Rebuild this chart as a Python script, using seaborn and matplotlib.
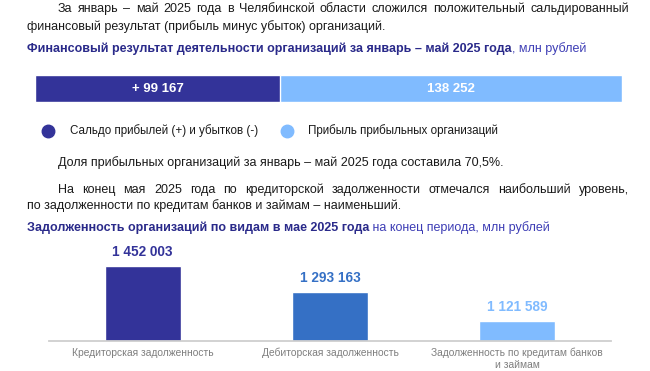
import matplotlib
matplotlib.use("Agg")
import matplotlib.pyplot as plt
import seaborn as sns
import pandas as pd
from matplotlib.lines import Line2D

# ---------------- data ----------------
fin_labels = ["Сальдо прибылей (+) и убытков (-)", "Прибыль прибыльных организаций"]
fin_values = [99167, 138252]
fin_texts = ["+ 99 167", "138 252"]

debt_categories = ["Кредиторская задолженность", "Дебиторская задолженность",
                   "Задолженность по кредитам банков\nи займам"]
debt_values = [1452003, 1293163, 1121589]

para1_line1 = "За январь – май 2025 года в Челябинской области сложился положительный сальдированный"
para1_line2 = "финансовый результат (прибыль минус убыток) организаций."
title1_bold = "Финансовый результат деятельности организаций за январь – май 2025 года"
title1_rest = ", млн рублей"
para2 = "Доля прибыльных организаций за январь – май 2025 года составила 70,5%."
para3_line1 = "На конец мая 2025 года по кредиторской задолженности отмечался наибольший уровень,"
para3_line2 = "по задолженности по кредитам банков и займам – наименьший."
title2_bold = "Задолженность организаций по видам в мае 2025 года"
title2_rest = " на конец периода, млн рублей"

# ---------------- style ----------------
sns.set_theme(style="white")
plt.rcParams["font.family"] = ["Liberation Sans", "DejaVu Sans"]

DARK = "#333399"
MID = "#3570C5"
LIGHT = "#80BBFF"
TITLE_C = "#2A2A8A"
TITLE_REST_C = "#3D3DB5"
TEXT_C = "#1a1a1a"
GRAY = "#7F7F7F"

W, H = 650, 371
fig = plt.figure(figsize=(W / 100, H / 100), dpi=100)
fig.patch.set_facecolor("white")
renderer = fig.canvas.get_renderer()


def fx(x):
    return x / W


def fy(y):
    return 1 - y / H


FS = 9.0
TFS = 9.0
LFS = 8.4


def put(x, y, s, **kw):
    kw.setdefault("fontsize", FS)
    kw.setdefault("color", TEXT_C)
    return fig.text(fx(x), fy(y), s, ha="left", va="center", **kw)


def justify(x0, x1, y, s, **kw):
    words = s.split(" ")
    kw.setdefault("fontsize", FS)
    kw.setdefault("color", TEXT_C)
    texts = [fig.text(0, fy(y), w, ha="left", va="center", **kw) for w in words]
    widths = [t.get_window_extent(renderer).width for t in texts]
    gap = (x1 - x0 - sum(widths)) / (len(words) - 1)
    x = x0
    for t, w in zip(texts, widths):
        t.set_x(fx(x))
        x += w + gap


def two_part(x, y, bold, rest, fs=TFS):
    t = put(x, y, bold, fontweight="bold", color=TITLE_C, fontsize=fs)
    w = t.get_window_extent(renderer).width
    put(x + w, y, rest, color=TITLE_REST_C, fontsize=fs)


# ---------------- texts ----------------
justify(58, 629, 9, para1_line1)
put(27, 27, para1_line2)
two_part(27, 49, title1_bold, title1_rest)
put(58, 163, para2)
justify(58, 629, 190, para3_line1)
put(27, 206, para3_line2)
two_part(27, 228, title2_bold, title2_rest)

# ---------------- stacked horizontal bar ----------------
x_left, x_right, y_top, y_bot = 35, 622, 75, 102
ax1 = fig.add_axes([fx(x_left), fy(y_bot), fx(x_right) - fx(x_left), (y_bot - y_top) / H])
total = sum(fin_values)
df_fin = pd.DataFrame({"row": ["r"], "total": [total], "first": [fin_values[0]]})
sns.barplot(data=df_fin, x="total", y="row", orient="h", color=LIGHT, width=1,
            saturation=1, ax=ax1)
sns.barplot(data=df_fin, x="first", y="row", orient="h", color=DARK, width=1,
            saturation=1, ax=ax1)
ax1.set_xlim(0, total)
ax1.set_ylim(0.5, -0.5)
ax1.axis("off")
ax1.text(fin_values[0] / 2, 0, fin_texts[0], ha="center", va="center",
         color="white", fontweight="bold", fontsize=9.5)
ax1.text(fin_values[0] + fin_values[1] / 2, 0, fin_texts[1], ha="center", va="center",
         color="white", fontweight="bold", fontsize=9.5)

# legend
for cx, tx, col, lab in [(48, 70, DARK, fin_labels[0]), (287, 308, LIGHT, fin_labels[1])]:
    fig.add_artist(Line2D([fx(cx)], [fy(131)], marker="o", markersize=9, color=col,
                          linestyle="none", transform=fig.transFigure))
    put(tx, 131, lab, fontsize=LFS)

# ---------------- debt bar chart ----------------
ax_l, ax_r, base, top = 49, 611, 341, 245
ax2 = fig.add_axes([fx(ax_l), fy(base), fx(ax_r) - fx(ax_l), (base - top) / H])
df_debt = pd.DataFrame({"cat": debt_categories, "val": debt_values})
sns.barplot(data=df_debt, x="cat", y="val", hue="cat", palette=[DARK, MID, LIGHT],
            width=0.406, saturation=1, legend=False, ax=ax2)
ymin = 1_000_000
ax2.set_ylim(ymin, ymin + (base - top) * 6007)
ax2.set_xlim(-0.5, 2.5)
for s in ["top", "right", "left"]:
    ax2.spines[s].set_visible(False)
ax2.spines["bottom"].set_color("#CFCFCF")
ax2.spines["bottom"].set_linewidth(1.3)
ax2.set_yticks([])
ax2.set_xlabel("")
ax2.set_ylabel("")
ax2.tick_params(axis="x", length=0, pad=5, labelsize=7.4, labelcolor=GRAY)
ax2.set_facecolor("none")
for i, (v, c) in enumerate(zip(debt_values, [DARK, MID, LIGHT])):
    lbl = f"{v:,}".replace(",", " ")
    ax2.annotate(lbl, (i, v), xytext=(0, 5), textcoords="offset points",
                 ha="center", va="bottom", fontweight="bold", fontsize=9.8, color=c)

fig.savefig("out.png", dpi=100, facecolor="white")
